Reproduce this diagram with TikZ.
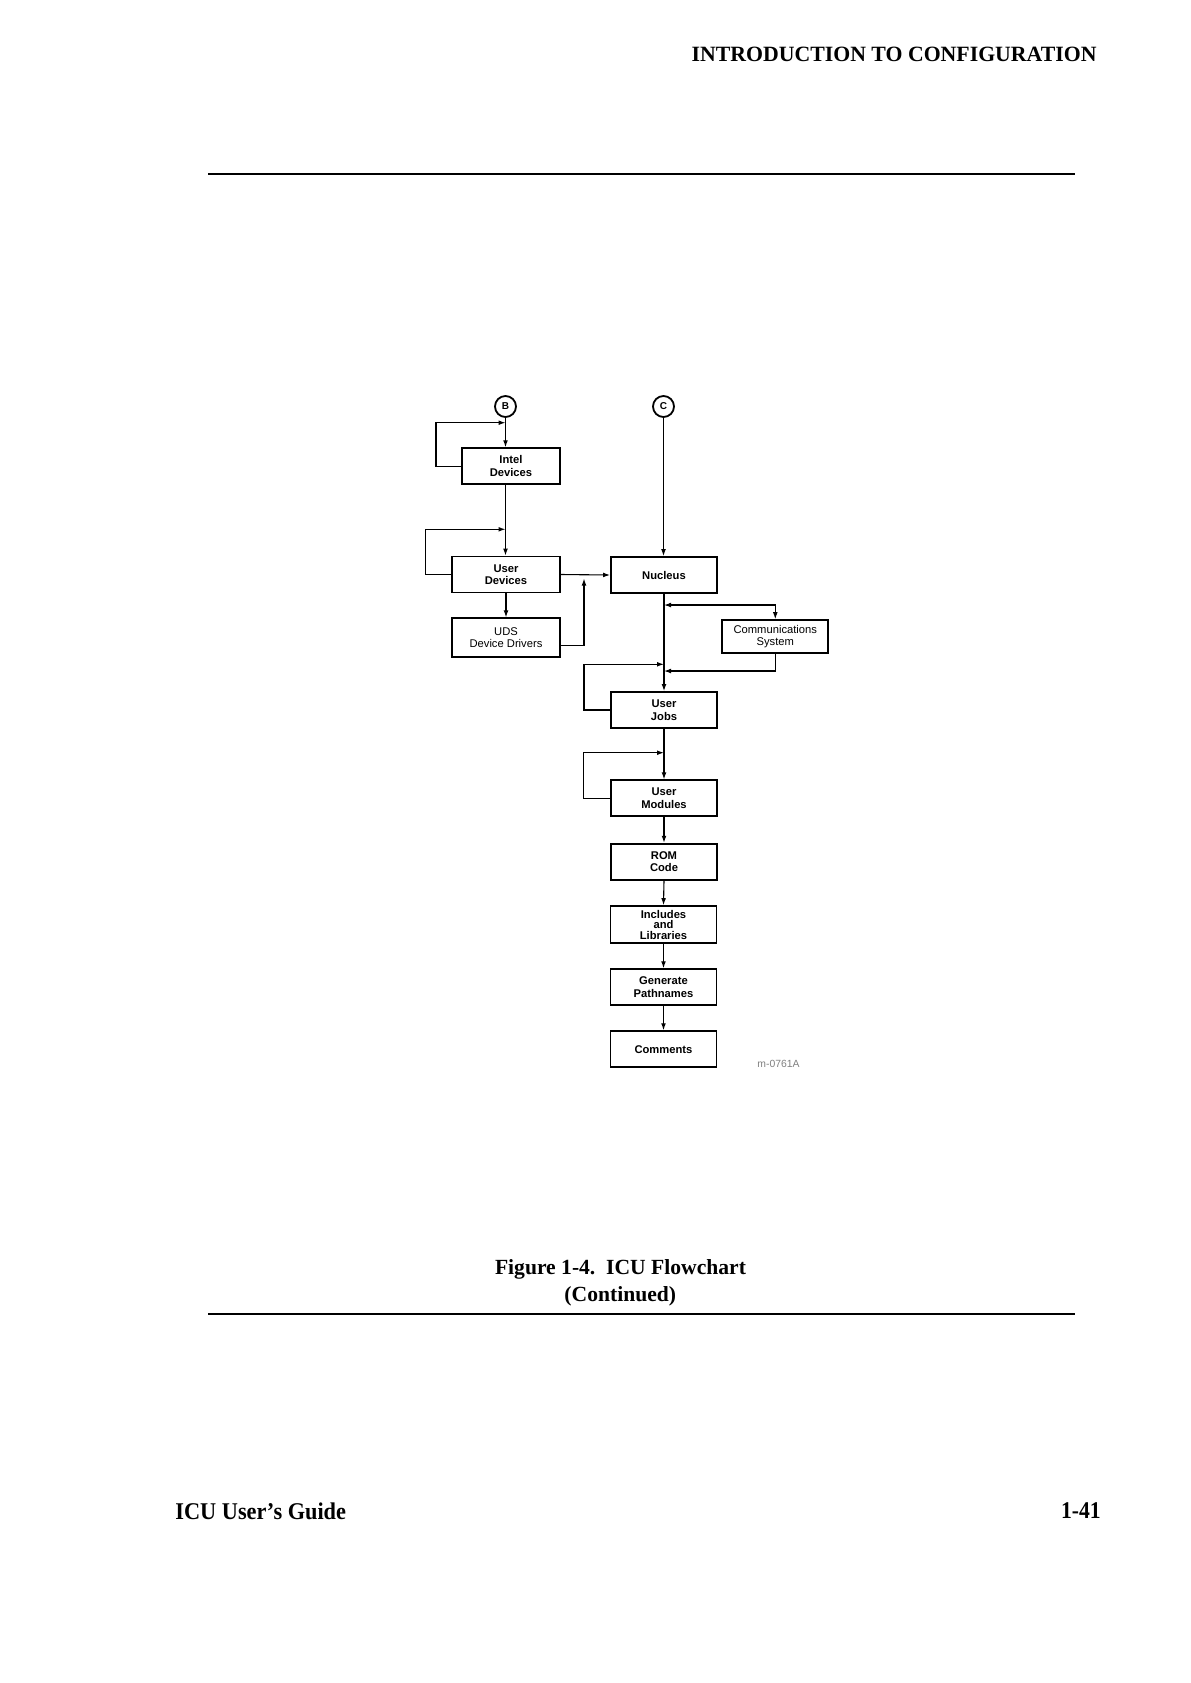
\documentclass[tikz,border=0pt]{standalone}
\usepackage{fontspec}
\usepackage{graphicx}
\setmainfont{Liberation Serif}
\newfontfamily\boxfont{Liberation Sans}
\usetikzlibrary{arrows.meta}
\begin{document}
\begin{tikzpicture}[x=0.5pt,y=-0.5pt,
  box/.style={draw,line width=0.9pt,minimum width=53pt,minimum height=18pt,inner sep=0pt,align=center,
    font=\boxfont\bfseries\fontsize{5.6}{6.3}\selectfont},
  plainbox/.style={box,font=\boxfont\fontsize{5.6}{6.3}\selectfont},
  conn/.style={circle,draw,line width=0.9pt,minimum size=10.5pt,inner sep=0pt,
    font=\boxfont\bfseries\fontsize{5}{6}\selectfont},
  link/.style={line width=0.55pt},
  arr/.style={link,-{Latex[length=3.5pt,width=2.4pt]}},
  arrboth/.style={link,{Latex[length=3.5pt,width=2.4pt]}-{Latex[length=3.5pt,width=2.4pt]}},
  rule/.style={line width=1pt},
]
\useasboundingbox (0,0) rectangle (1190,1683);

% header / footer
\node[anchor=base east,inner sep=0pt,font=\bfseries\fontsize{10.9}{12}\selectfont] (hdr) at (1097,61) {INTRODUCTION TO CONFIGURATION};
\coordinate (r1a) at (208.3,174.3); \coordinate (r1b) at (1075,174.3);
\draw[rule] (r1a) -- (r1b);

\node[anchor=base,inner sep=0pt,font=\bfseries\fontsize{10.8}{12}\selectfont] (cap1) at (620.5,1274) {Figure 1-4.\ \ ICU Flowchart};
\node[anchor=base,inner sep=0pt,font=\bfseries\fontsize{10.8}{12}\selectfont] (cap2) at (620.3,1301) {(Continued)};
\coordinate (r2a) at (208.3,1313.5); \coordinate (r2b) at (1075,1313.5);
\draw[rule] (r2a) -- (r2b);

\node[anchor=base west,inner sep=0pt,font=\bfseries\fontsize{12}{14}\selectfont] (foot) at (175,1519) {\scalebox{0.93}[1]{ICU User's Guide}};
\node[anchor=base east,inner sep=0pt,font=\bfseries\fontsize{12}{14}\selectfont] (pg) at (1101,1518) {\scalebox{0.9}[1]{1-41}};

% connectors
\node[conn] (B) at (505.5,406.5) {B};
\node[conn] (C) at (663.5,406.5) {C};

% boxes
\node[box,minimum width=49pt] (intel) at (511,466.2) {Intel\\Devices};
\node[box,minimum width=54pt] (udev) at (506,574.5) {User\\Devices};
\node[plainbox,minimum width=54pt,minimum height=19.2pt] (uds) at (506,637.5) {UDS\\Device Drivers};
\node[box] (nuc) at (664,575) {Nucleus};
\node[plainbox,minimum height=16.6pt] (comm) at (775.3,636.7) {Communications\\System};
\node[box] (jobs) at (664,710) {User\\Jobs};
\node[box] (mods) at (664,798.3) {User\\Modules};
\node[box] (rom) at (664,861.7) {ROM\\Code};
\node[box,minimum height=18.6pt,font=\boxfont\bfseries\fontsize{5.6}{5.2}\selectfont] (incl) at (663.5,924.7) {Includes\\and\\Libraries};
\node[box] (gen) at (663.5,987.2) {Generate\\Pathnames};
\node[box] (comt) at (663.5,1049.2) {Comments};

\node[anchor=base west,inner sep=0pt,text=black!50,font=\boxfont\fontsize{5.2}{6}\selectfont] (tag) at (757,1067) {m-0761A};

% left column
\draw[arr] (B) -- (B |- intel.north);
\coordinate (il) at (436,422.7);
\coordinate (bj) at (505.5,422.7);
\draw[arr] (intel.west) -| (il) -- (bj);
\draw[arr] (B |- intel.south) -- (B |- udev.north);
\coordinate (ul) at (425.7,529.3);
\coordinate (uj) at (505.5,529.3);
\draw[arr] (udev.west) -| (ul) -- (uj);
\draw[arr] (udev.south) -- (uds.north);
\draw[arr] (udev.east) -- (nuc.west);
\coordinate (dj) at (584,578.5);
\draw[arr] ([yshift=-4pt]uds.east) -| (dj);

% right column
\draw[arr] (C) -- (C |- nuc.north);
\coordinate (n1) at (664,605);
\draw[arrboth] (n1) -| (comm.north);
\coordinate (n2) at (664,671);
\draw[arr] (comm.south) |- (n2);
\draw[arr] (nuc.south) -- (jobs.north);
\coordinate (jl) at (584,664.3);
\coordinate (jj) at (664,664.3);
\draw[arr] (jobs.west) -| (jl) -- (jj);
\draw[arr] (jobs.south) -- (mods.north);
\coordinate (ml) at (583.3,752.7);
\coordinate (mj) at (664,752.7);
\draw[arr] (mods.west) -| (ml) -- (mj);
\draw[arr] (mods.south) -- (rom.north);
\draw[arr] (rom.south) -- (incl.north);
\draw[arr] (incl.south) -- (gen.north);
\draw[arr] (gen.south) -- (comt.north);
\end{tikzpicture}
\end{document}
